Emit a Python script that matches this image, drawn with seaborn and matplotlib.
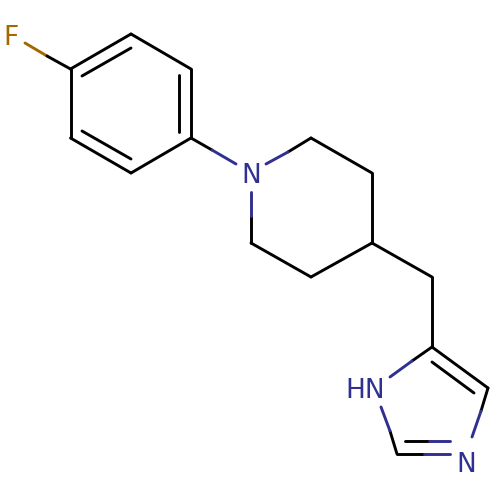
import pandas as pd
import matplotlib
matplotlib.use("Agg")
import matplotlib.pyplot as plt
import seaborn as sns

# bond pieces in image pixels, split where the colour changes
bond_x0 = [25, 47, 70.5, 131, 191, 191, 131, 70.5, 82, 179, 82,
           191, 212, 266, 288, 311, 372, 372, 311, 251, 251,
           372, 432, 432, 432, 432, 412, 488, 481, 397, 424, 405, 429, 381, 390]
bond_y0 = [43, 56, 69, 34, 69, 138, 173, 138, 76, 75, 131,
           138, 150, 164, 152, 138, 173, 243, 277, 243, 216,
           243, 277, 347, 362, 347, 361, 388, 411, 454, 454, 441, 441, 407, 431]
bond_x1 = [47, 70.5, 131, 191, 191, 131, 70.5, 70.5, 131, 179, 131,
           212, 236, 288, 311, 372, 372, 311, 251, 251, 251,
           432, 432, 488, 474, 412, 390, 481, 472, 424, 450, 429, 450, 390, 397]
bond_y1 = [56, 69, 34, 69, 138, 173, 138, 69, 48, 132, 159,
           150, 164, 152, 138, 173, 243, 277, 243, 216, 192,
           277, 347, 388, 393, 361, 377, 411, 437, 454, 454, 441, 441, 431, 454]
bond_atom = ["F"] + ["C"] * 10 + ["C", "N", "N", "C", "C", "C", "C", "C", "C", "N"] + \
            ["C", "C", "C", "C", "C", "N", "C", "N", "C", "N", "C", "N", "N", "C"]

atom_labels = ["F", "N", "HN", "N"]
atom_x = [11, 251, 365, 466]
atom_y = [35, 173, 388, 462]
atom_kind = ["F", "N", "N", "N"]

colors = {"C": "#000000", "N": "#303090", "F": "#A06A00"}

rows = []
for i in range(len(bond_x0)):
    rows.append({"bond": i, "x": bond_x0[i], "y": bond_y0[i], "atom": bond_atom[i], "step": 0})
    rows.append({"bond": i, "x": bond_x1[i], "y": bond_y1[i], "atom": bond_atom[i], "step": 1})
df = pd.DataFrame(rows)

sns.set_theme(style="white")
fig = plt.figure(figsize=(5, 5), dpi=100)
ax = fig.add_axes([0, 0, 1, 1])

sns.lineplot(data=df, x="x", y="y", hue="atom", units="bond", estimator=None,
             sort=False, palette=colors, linewidth=2.1, legend=False, ax=ax)

for lab, x, y, kind in zip(atom_labels, atom_x, atom_y, atom_kind):
    ax.text(x, y, lab, color=colors[kind], fontsize=19, family="DejaVu Sans",
            ha="center", va="center_baseline")

ax.set_xlim(0, 500)
ax.set_ylim(500, 0)
ax.axis("off")
fig.savefig("out.png", dpi=100, facecolor="white")
